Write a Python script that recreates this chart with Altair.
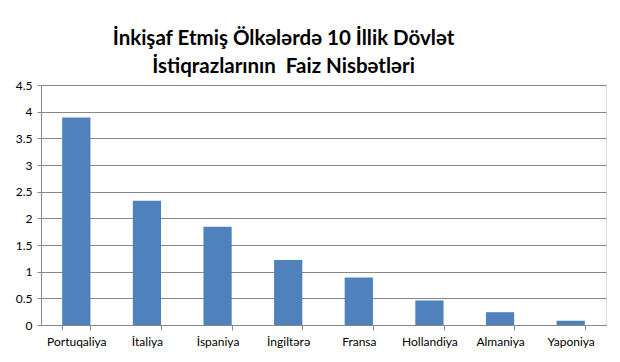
import altair as alt
import pandas as pd

countries = ["Portuqaliya", "İtaliya", "İspaniya", "İngiltərə", "Fransa", "Hollandiya", "Almaniya", "Yaponiya"]
rates = [3.89, 2.33, 1.84, 1.22, 0.89, 0.46, 0.24, 0.08]
y_ticks = [0, 0.5, 1, 1.5, 2, 2.5, 3, 3.5, 4, 4.5]
title_lines = ["İnkişaf Etmiş Ölkələrdə 10 İllik Dövlət", "İstiqrazlarının\u00a0 Faiz Nisbətləri"]

df = pd.DataFrame({"country": countries, "rate": rates})

chart = alt.Chart(df).mark_bar(color="#4F81BD").encode(
    x=alt.X(
        "country:N",
        sort=countries,
        scale=alt.Scale(paddingInner=0.6, paddingOuter=0.3),
        axis=alt.Axis(
            title=None, labelAngle=0, tickBand="extent", grid=False,
            domainColor="#888888", tickColor="#888888", tickSize=5,
            labelFont="Lato", labelFontSize=12, labelColor="#000000",
            labelPadding=6,
        ),
    ),
    y=alt.Y(
        "rate:Q",
        scale=alt.Scale(domain=[0, 4.5], nice=False),
        axis=alt.Axis(
            title=None, values=y_ticks, format="~g", grid=True,
            gridColor="#888888", gridWidth=1, domainColor="#888888",
            tickColor="#888888", tickSize=4,
            labelFont="Lato", labelFontSize=12, labelColor="#000000",
            labelPadding=5,
        ),
    ),
).properties(
    width=565,
    height=240,
    padding={"left": 33, "top": 77, "right": 6, "bottom": 29},
    autosize=alt.AutoSizeParams(type="none"),
    title=alt.TitleParams(
        text=title_lines, font="Lato", fontSize=20.5, fontWeight="bold",
        color="#000000", anchor="middle", dx=-40, lineHeight=28, offset=2,
    ),
).configure_view(stroke=None).configure(background="#ffffff")

chart.save("out.html", embed_options={"renderer": "svg", "actions": False})
